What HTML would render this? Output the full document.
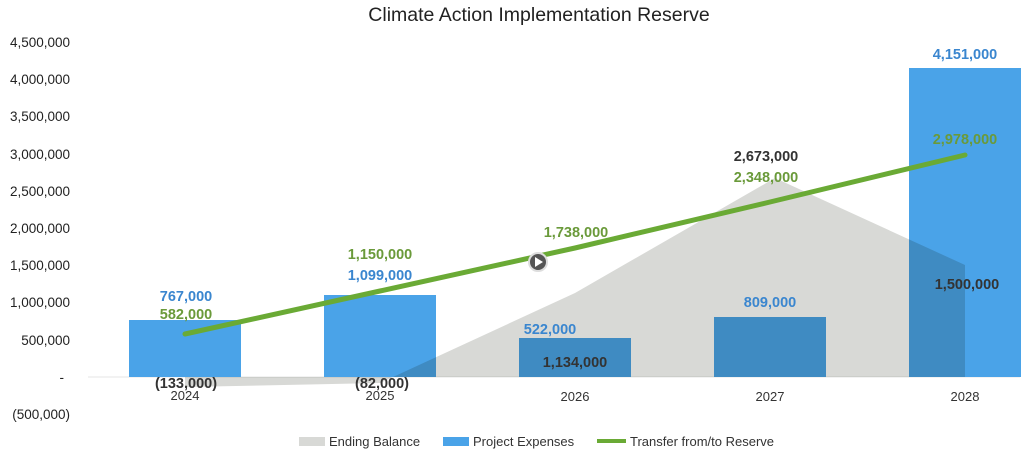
<!DOCTYPE html>
<html><head><meta charset="utf-8"><style>
body{margin:0;background:#fff;}
svg{display:block;font-family:"Liberation Sans",sans-serif;}
</style></head><body>
<svg width="1024" height="473" viewBox="0 0 1024 473">
<text x="539" y="21" text-anchor="middle" font-size="19.5" fill="#222">Climate Action Implementation Reserve</text>
<g font-size="13.5" fill="#222" text-anchor="end">
<text x="70" y="47">4,500,000</text>
<text x="70" y="84">4,000,000</text>
<text x="70" y="121">3,500,000</text>
<text x="70" y="159">3,000,000</text>
<text x="70" y="196">2,500,000</text>
<text x="70" y="233">2,000,000</text>
<text x="70" y="270">1,500,000</text>
<text x="70" y="307">1,000,000</text>
<text x="70" y="345">500,000</text>
<text x="64" y="382">-</text>
<text x="70" y="419">(500,000)</text>
</g>
<line x1="88" y1="377" x2="1020" y2="377" stroke="#e4e4e4"/>
<g fill="#4aa3e8">
<rect x="129" y="320" width="112" height="57"/>
<rect x="324" y="295" width="112" height="82"/>
<rect x="519" y="338" width="112" height="39"/>
<rect x="714" y="317" width="112" height="60"/>
<rect x="909" y="68" width="112" height="309"/>
</g>
<polygon points="185,377 185,387 380,383 575,293 775,178 965,265 965,377" fill="#d8d9d6" style="mix-blend-mode:multiply"/>
<polyline points="185,334 380,291 575,248 770,202 965,155" fill="none" stroke="#6aaa35" stroke-width="5" stroke-linecap="round"/>
<circle cx="538" cy="262" r="9" fill="#555" stroke="#ddd" stroke-width="2"/>
<polygon points="535,257 535,267 543,262" fill="#fff"/>
<g font-size="14.5" font-weight="bold" text-anchor="middle">
<g fill="#3a86cf">
<text x="186" y="301">767,000</text>
<text x="380" y="280">1,099,000</text>
<text x="550" y="334">522,000</text>
<text x="770" y="307">809,000</text>
<text x="965" y="59">4,151,000</text>
</g>
<g fill="#6a9a3a">
<text x="186" y="319">582,000</text>
<text x="380" y="259">1,150,000</text>
<text x="576" y="237">1,738,000</text>
<text x="766" y="182">2,348,000</text>
<text x="965" y="144">2,978,000</text>
</g>
<g fill="#333">
<text x="186" y="388">(133,000)</text>
<text x="382" y="388">(82,000)</text>
<text x="575" y="367">1,134,000</text>
<text x="766" y="161">2,673,000</text>
<text x="967" y="289">1,500,000</text>
</g>
</g>
<g font-size="13" fill="#333" text-anchor="middle">
<text x="185" y="400">2024</text>
<text x="380" y="400">2025</text>
<text x="575" y="401">2026</text>
<text x="770" y="401">2027</text>
<text x="965" y="401">2028</text>
</g>
<g font-size="13" fill="#333">
<rect x="299" y="437" width="26" height="9" fill="#d8d9d6"/>
<text x="329" y="446">Ending Balance</text>
<rect x="443" y="437" width="26" height="9" fill="#4aa3e8"/>
<text x="473" y="446">Project Expenses</text>
<line x1="597" y1="441" x2="626" y2="441" stroke="#6aaa35" stroke-width="4"/>
<text x="630" y="446">Transfer from/to Reserve</text>
</g>
</svg>
</body></html>
